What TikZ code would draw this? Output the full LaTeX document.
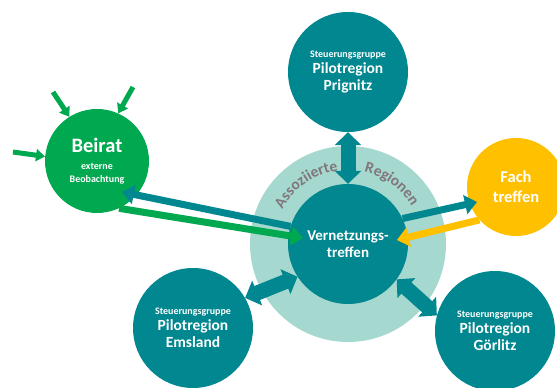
\documentclass[tikz,border=0pt]{standalone}
\usepackage{fontspec}
\setmainfont{Carlito}
\usetikzlibrary{arrows.meta,calc,decorations.text}

\definecolor{petrol}{RGB}{0,135,143}
\definecolor{ringmint}{RGB}{165,216,206}
\definecolor{beiratgreen}{RGB}{0,168,80}
\definecolor{fachgelb}{RGB}{255,192,0}
\definecolor{ringgrau}{RGB}{128,118,124}

\newcommand{\fsz}[2]{\fontsize{#1}{#2}\selectfont}
\newcommand{\ringfont}{\bfseries\fontsize{15.5}{17}\selectfont}
\newcommand{\pilotregion}[1]{{\fsz{10}{12}Steuerungsgruppe}\\[-1.5pt]Pilotregion\\#1}

\begin{document}
\begin{tikzpicture}[x=1pt,y=1pt,
  kreis/.style={circle,inner sep=0pt,text=white,align=center,font=\bfseries},
  pilot/.style={kreis,fill=petrol,minimum size=120pt,font=\bfseries\fsz{15.5}{17.5}},
  einpfeil/.style={line width=7pt,-{Triangle[width=19pt,length=12pt]}},
  doppelpfeil/.style={petrol,line width=15pt,{Triangle[width=26pt,length=13pt]}-{Triangle[width=26pt,length=13pt]}},
  zupfeil/.style={beiratgreen,line width=5pt,-{Triangle[width=12pt,length=9pt]}},
  ringtext/.style={font=\ringfont,decorate,decoration={text along path,text align=center,
    text color=ringgrau,text={|\ringfont|#1}}}]
  \useasboundingbox (0,0) rectangle (557,388);

  \node[circle,fill=ringmint,minimum size=196pt] (ring) at (348,144) {};
  \node[kreis,fill=petrol,minimum size=120pt,font=\bfseries\fsz{15}{17}] (verne) at (ring.center) {Vernetzungs-\\treffen};
  \node[pilot] (prignitz) at (348,316) {\pilotregion{Prignitz}};
  \node[pilot] (emsland) at (193,60) {\pilotregion{Emsland}};
  \node[pilot] (goerlitz) at (495,57) {\pilotregion{Görlitz}};
  \node[kreis,fill=beiratgreen,minimum size=104pt,font=\bfseries\fsz{10}{13}] (beirat) at (97,227)
    {{\fsz{20.5}{22}Beirat}\\[4pt]externe\\Beobachtung};
  \node[kreis,fill=fachgelb,minimum size=98pt,font=\bfseries\fsz{16.5}{20}] (fach) at (516,201) {Fach\\treffen};

  \path[ringtext=Assoziierte] ($(verne.center)+(157:74)$) arc[start angle=157,end angle=93,radius=74];
  \path[ringtext=Regionen] ($(verne.center)+(87:74)$) arc[start angle=87,end angle=21,radius=74];

  \draw[doppelpfeil] (prignitz.south) -- (verne.north);
  \draw[doppelpfeil] (emsland.30) -- (verne.213);
  \draw[doppelpfeil] (goerlitz.165) -- (verne.-36);

  \draw[einpfeil,petrol] (verne.163) -- ([shift={(25,-31)}]beirat.center);
  \draw[einpfeil,beiratgreen] (beirat.-65) -- ([shift={(-45,6)}]verne.center);
  \draw[einpfeil,petrol] (verne.25) -- ([shift={(-39,-15)}]fach.center);
  \draw[einpfeil,fachgelb] (fach.222) -- ([shift={(49,4)}]verne.center);

  \coordinate (vonlinks) at (13,236);
  \coordinate (vonoben) at (53,296);
  \coordinate (vonrechts) at (133,301);
  \draw[zupfeil] (vonlinks) -- (beirat.175);
  \draw[zupfeil] (vonoben) -- (beirat.122);
  \draw[zupfeil] (vonrechts) -- (beirat.66);
\end{tikzpicture}
\end{document}
